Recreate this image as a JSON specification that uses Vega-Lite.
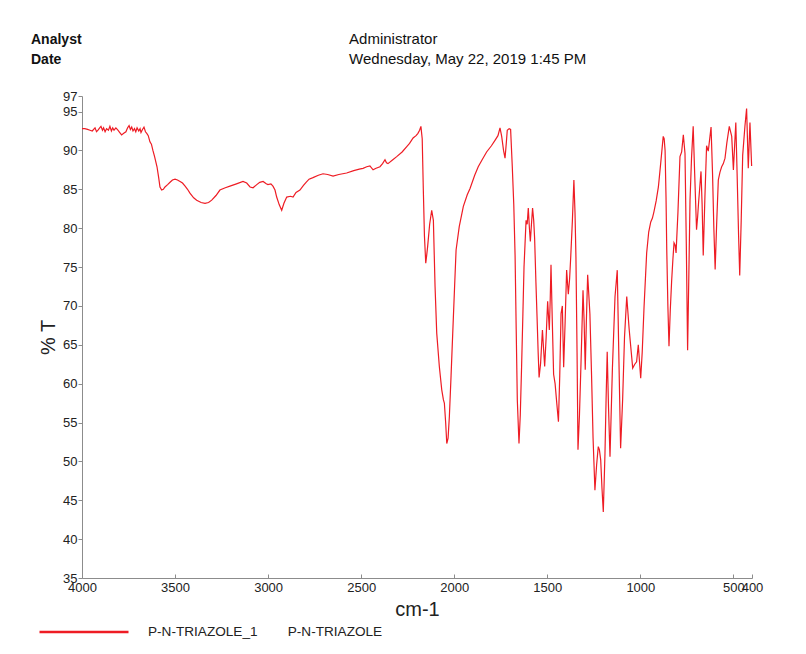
{
  "$schema": "https://vega.github.io/schema/vega-lite/v6.json",
  "width": 670,
  "height": 482,
  "autosize": {"type": "none"},
  "padding": {"left": 82, "top": 96, "right": 54, "bottom": 76},
  "background": "white",
  "config": {"view": {"stroke": null}, "font": "Liberation Sans"},
  "datasets": {
    "header": [{"labels": ["Analyst", "Date"], "values": ["Administrator", "Wednesday, May 22, 2019 1:45 PM"]}],
    "spectrum": [
      {"wavenumber": 4000, "T": 92.8}, {"wavenumber": 3985, "T": 92.8}, {"wavenumber": 3970, "T": 92.7}, {"wavenumber": 3957, "T": 92.6},
      {"wavenumber": 3945, "T": 92.5}, {"wavenumber": 3930, "T": 92.9}, {"wavenumber": 3922, "T": 92.4}, {"wavenumber": 3914, "T": 92.6},
      {"wavenumber": 3905, "T": 92.9}, {"wavenumber": 3898, "T": 93.1}, {"wavenumber": 3890, "T": 92.6}, {"wavenumber": 3884, "T": 92.9},
      {"wavenumber": 3876, "T": 92.4}, {"wavenumber": 3868, "T": 92.8}, {"wavenumber": 3858, "T": 92.6}, {"wavenumber": 3850, "T": 93.1},
      {"wavenumber": 3842, "T": 92.5}, {"wavenumber": 3835, "T": 92.9}, {"wavenumber": 3828, "T": 92.6}, {"wavenumber": 3818, "T": 92.9},
      {"wavenumber": 3807, "T": 92.6}, {"wavenumber": 3797, "T": 92.3}, {"wavenumber": 3787, "T": 92.0}, {"wavenumber": 3776, "T": 92.2},
      {"wavenumber": 3764, "T": 92.4}, {"wavenumber": 3755, "T": 92.9}, {"wavenumber": 3747, "T": 93.2}, {"wavenumber": 3740, "T": 92.7},
      {"wavenumber": 3733, "T": 93.0}, {"wavenumber": 3726, "T": 92.5}, {"wavenumber": 3718, "T": 92.8}, {"wavenumber": 3711, "T": 92.4},
      {"wavenumber": 3704, "T": 92.9}, {"wavenumber": 3695, "T": 92.5}, {"wavenumber": 3688, "T": 92.8}, {"wavenumber": 3683, "T": 92.3},
      {"wavenumber": 3675, "T": 92.7}, {"wavenumber": 3667, "T": 93.0}, {"wavenumber": 3659, "T": 92.4}, {"wavenumber": 3652, "T": 92.2},
      {"wavenumber": 3644, "T": 91.9}, {"wavenumber": 3635, "T": 91.1}, {"wavenumber": 3627, "T": 90.8}, {"wavenumber": 3619, "T": 90.0},
      {"wavenumber": 3610, "T": 89.2}, {"wavenumber": 3597, "T": 87.9}, {"wavenumber": 3588, "T": 86.5}, {"wavenumber": 3581, "T": 85.3},
      {"wavenumber": 3572, "T": 84.9}, {"wavenumber": 3563, "T": 85.0}, {"wavenumber": 3554, "T": 85.3}, {"wavenumber": 3540, "T": 85.6},
      {"wavenumber": 3527, "T": 85.9}, {"wavenumber": 3514, "T": 86.2}, {"wavenumber": 3500, "T": 86.3}, {"wavenumber": 3487, "T": 86.2},
      {"wavenumber": 3473, "T": 86.0}, {"wavenumber": 3460, "T": 85.8}, {"wavenumber": 3446, "T": 85.4}, {"wavenumber": 3433, "T": 85.0},
      {"wavenumber": 3420, "T": 84.5}, {"wavenumber": 3400, "T": 83.9}, {"wavenumber": 3384, "T": 83.6}, {"wavenumber": 3360, "T": 83.3},
      {"wavenumber": 3339, "T": 83.2}, {"wavenumber": 3320, "T": 83.3}, {"wavenumber": 3303, "T": 83.6}, {"wavenumber": 3280, "T": 84.2},
      {"wavenumber": 3259, "T": 84.9}, {"wavenumber": 3230, "T": 85.2}, {"wavenumber": 3205, "T": 85.4}, {"wavenumber": 3170, "T": 85.7},
      {"wavenumber": 3135, "T": 86.0}, {"wavenumber": 3115, "T": 85.8}, {"wavenumber": 3097, "T": 85.3}, {"wavenumber": 3081, "T": 85.2},
      {"wavenumber": 3061, "T": 85.6}, {"wavenumber": 3045, "T": 85.9}, {"wavenumber": 3027, "T": 86.0}, {"wavenumber": 3010, "T": 85.7},
      {"wavenumber": 3001, "T": 85.6}, {"wavenumber": 2985, "T": 85.7}, {"wavenumber": 2974, "T": 85.4}, {"wavenumber": 2963, "T": 84.9},
      {"wavenumber": 2954, "T": 84.0}, {"wavenumber": 2940, "T": 83.0}, {"wavenumber": 2927, "T": 82.3}, {"wavenumber": 2915, "T": 83.2},
      {"wavenumber": 2900, "T": 84.0}, {"wavenumber": 2880, "T": 84.1}, {"wavenumber": 2866, "T": 84.0}, {"wavenumber": 2850, "T": 84.6},
      {"wavenumber": 2829, "T": 84.9}, {"wavenumber": 2810, "T": 85.5}, {"wavenumber": 2796, "T": 85.9}, {"wavenumber": 2780, "T": 86.3},
      {"wavenumber": 2759, "T": 86.5}, {"wavenumber": 2730, "T": 86.8}, {"wavenumber": 2705, "T": 87.0}, {"wavenumber": 2680, "T": 86.9},
      {"wavenumber": 2651, "T": 86.7}, {"wavenumber": 2620, "T": 86.9}, {"wavenumber": 2578, "T": 87.1}, {"wavenumber": 2540, "T": 87.4},
      {"wavenumber": 2510, "T": 87.6}, {"wavenumber": 2490, "T": 87.7}, {"wavenumber": 2470, "T": 87.9}, {"wavenumber": 2453, "T": 88.0},
      {"wavenumber": 2436, "T": 87.5}, {"wavenumber": 2420, "T": 87.7}, {"wavenumber": 2399, "T": 87.9}, {"wavenumber": 2385, "T": 88.3},
      {"wavenumber": 2372, "T": 88.8}, {"wavenumber": 2364, "T": 88.4}, {"wavenumber": 2356, "T": 88.3}, {"wavenumber": 2330, "T": 88.8},
      {"wavenumber": 2309, "T": 89.2}, {"wavenumber": 2280, "T": 89.8}, {"wavenumber": 2255, "T": 90.5}, {"wavenumber": 2240, "T": 90.9},
      {"wavenumber": 2221, "T": 91.6}, {"wavenumber": 2205, "T": 91.9}, {"wavenumber": 2195, "T": 92.2}, {"wavenumber": 2186, "T": 92.6},
      {"wavenumber": 2179, "T": 93.1}, {"wavenumber": 2172, "T": 91.5}, {"wavenumber": 2166, "T": 84.9}, {"wavenumber": 2160, "T": 79.0},
      {"wavenumber": 2153, "T": 75.5}, {"wavenumber": 2148, "T": 76.5}, {"wavenumber": 2143, "T": 77.6}, {"wavenumber": 2132, "T": 80.5},
      {"wavenumber": 2121, "T": 82.3}, {"wavenumber": 2112, "T": 81.0}, {"wavenumber": 2103, "T": 72.5}, {"wavenumber": 2094, "T": 66.5},
      {"wavenumber": 2080, "T": 62.2}, {"wavenumber": 2067, "T": 59.2}, {"wavenumber": 2058, "T": 57.9}, {"wavenumber": 2053, "T": 57.5},
      {"wavenumber": 2046, "T": 55.0}, {"wavenumber": 2040, "T": 52.3}, {"wavenumber": 2033, "T": 53.0}, {"wavenumber": 2026, "T": 55.8},
      {"wavenumber": 2017, "T": 61.0}, {"wavenumber": 2008, "T": 66.5}, {"wavenumber": 1998, "T": 72.5}, {"wavenumber": 1990, "T": 77.2},
      {"wavenumber": 1973, "T": 80.2}, {"wavenumber": 1951, "T": 82.8}, {"wavenumber": 1930, "T": 84.3}, {"wavenumber": 1915, "T": 85.1},
      {"wavenumber": 1890, "T": 86.8}, {"wavenumber": 1871, "T": 87.9}, {"wavenumber": 1850, "T": 88.8}, {"wavenumber": 1826, "T": 89.8},
      {"wavenumber": 1800, "T": 90.6}, {"wavenumber": 1781, "T": 91.3}, {"wavenumber": 1765, "T": 91.9}, {"wavenumber": 1754, "T": 92.9},
      {"wavenumber": 1745, "T": 91.8}, {"wavenumber": 1735, "T": 90.0}, {"wavenumber": 1727, "T": 89.0}, {"wavenumber": 1720, "T": 91.0},
      {"wavenumber": 1715, "T": 92.6}, {"wavenumber": 1705, "T": 92.8}, {"wavenumber": 1697, "T": 92.7}, {"wavenumber": 1688, "T": 87.9},
      {"wavenumber": 1680, "T": 83.0}, {"wavenumber": 1673, "T": 76.5}, {"wavenumber": 1667, "T": 67.0}, {"wavenumber": 1661, "T": 57.9},
      {"wavenumber": 1652, "T": 52.3}, {"wavenumber": 1645, "T": 56.0}, {"wavenumber": 1638, "T": 62.2}, {"wavenumber": 1631, "T": 69.0},
      {"wavenumber": 1625, "T": 75.0}, {"wavenumber": 1614, "T": 81.0}, {"wavenumber": 1608, "T": 80.5}, {"wavenumber": 1602, "T": 82.6},
      {"wavenumber": 1596, "T": 80.0}, {"wavenumber": 1591, "T": 78.3}, {"wavenumber": 1585, "T": 80.5}, {"wavenumber": 1579, "T": 82.6},
      {"wavenumber": 1573, "T": 81.0}, {"wavenumber": 1568, "T": 78.7}, {"wavenumber": 1561, "T": 73.0}, {"wavenumber": 1555, "T": 68.6},
      {"wavenumber": 1549, "T": 64.0}, {"wavenumber": 1544, "T": 60.8}, {"wavenumber": 1536, "T": 62.6}, {"wavenumber": 1526, "T": 66.9},
      {"wavenumber": 1520, "T": 64.5}, {"wavenumber": 1514, "T": 62.2}, {"wavenumber": 1506, "T": 66.0}, {"wavenumber": 1498, "T": 70.6},
      {"wavenumber": 1489, "T": 66.9}, {"wavenumber": 1484, "T": 71.0}, {"wavenumber": 1480, "T": 75.3}, {"wavenumber": 1473, "T": 68.0},
      {"wavenumber": 1466, "T": 61.2}, {"wavenumber": 1458, "T": 60.0}, {"wavenumber": 1449, "T": 57.5}, {"wavenumber": 1440, "T": 55.1},
      {"wavenumber": 1433, "T": 61.0}, {"wavenumber": 1426, "T": 69.0}, {"wavenumber": 1419, "T": 70.0}, {"wavenumber": 1412, "T": 62.1},
      {"wavenumber": 1404, "T": 68.0}, {"wavenumber": 1396, "T": 74.6}, {"wavenumber": 1387, "T": 71.5}, {"wavenumber": 1380, "T": 73.5},
      {"wavenumber": 1374, "T": 76.3}, {"wavenumber": 1365, "T": 81.0}, {"wavenumber": 1357, "T": 86.2}, {"wavenumber": 1351, "T": 82.0},
      {"wavenumber": 1346, "T": 76.3}, {"wavenumber": 1340, "T": 64.0}, {"wavenumber": 1335, "T": 51.5}, {"wavenumber": 1327, "T": 56.0},
      {"wavenumber": 1319, "T": 62.5}, {"wavenumber": 1308, "T": 72.0}, {"wavenumber": 1302, "T": 68.0}, {"wavenumber": 1296, "T": 61.8},
      {"wavenumber": 1290, "T": 68.0}, {"wavenumber": 1283, "T": 74.0}, {"wavenumber": 1277, "T": 71.5}, {"wavenumber": 1271, "T": 69.0},
      {"wavenumber": 1262, "T": 61.0}, {"wavenumber": 1254, "T": 53.0}, {"wavenumber": 1244, "T": 46.3}, {"wavenumber": 1235, "T": 49.5},
      {"wavenumber": 1226, "T": 51.9}, {"wavenumber": 1220, "T": 51.5}, {"wavenumber": 1213, "T": 50.2}, {"wavenumber": 1206, "T": 46.5},
      {"wavenumber": 1199, "T": 43.5}, {"wavenumber": 1190, "T": 51.0}, {"wavenumber": 1184, "T": 58.0}, {"wavenumber": 1178, "T": 64.1},
      {"wavenumber": 1171, "T": 57.0}, {"wavenumber": 1163, "T": 50.6}, {"wavenumber": 1150, "T": 62.0}, {"wavenumber": 1136, "T": 71.2},
      {"wavenumber": 1124, "T": 74.6}, {"wavenumber": 1115, "T": 63.0}, {"wavenumber": 1106, "T": 51.7}, {"wavenumber": 1095, "T": 58.0},
      {"wavenumber": 1085, "T": 66.0}, {"wavenumber": 1073, "T": 71.2}, {"wavenumber": 1060, "T": 67.0}, {"wavenumber": 1041, "T": 62.0},
      {"wavenumber": 1030, "T": 62.5}, {"wavenumber": 1020, "T": 62.8}, {"wavenumber": 1011, "T": 65.0}, {"wavenumber": 998, "T": 60.7},
      {"wavenumber": 990, "T": 64.0}, {"wavenumber": 980, "T": 69.9}, {"wavenumber": 966, "T": 76.8}, {"wavenumber": 955, "T": 79.5},
      {"wavenumber": 944, "T": 80.8}, {"wavenumber": 935, "T": 81.3}, {"wavenumber": 927, "T": 82.1}, {"wavenumber": 915, "T": 83.5},
      {"wavenumber": 903, "T": 85.3}, {"wavenumber": 890, "T": 88.5}, {"wavenumber": 877, "T": 91.8}, {"wavenumber": 872, "T": 91.5},
      {"wavenumber": 867, "T": 90.0}, {"wavenumber": 862, "T": 84.0}, {"wavenumber": 858, "T": 77.2}, {"wavenumber": 852, "T": 70.0},
      {"wavenumber": 846, "T": 64.8}, {"wavenumber": 839, "T": 69.5}, {"wavenumber": 832, "T": 73.1}, {"wavenumber": 825, "T": 76.0},
      {"wavenumber": 819, "T": 78.1}, {"wavenumber": 813, "T": 77.8}, {"wavenumber": 808, "T": 76.8}, {"wavenumber": 798, "T": 82.0},
      {"wavenumber": 787, "T": 89.2}, {"wavenumber": 778, "T": 89.8}, {"wavenumber": 769, "T": 92.0}, {"wavenumber": 760, "T": 89.6},
      {"wavenumber": 753, "T": 78.0}, {"wavenumber": 746, "T": 64.3}, {"wavenumber": 740, "T": 73.0}, {"wavenumber": 733, "T": 83.6},
      {"wavenumber": 725, "T": 89.0}, {"wavenumber": 716, "T": 93.1}, {"wavenumber": 708, "T": 87.0}, {"wavenumber": 698, "T": 79.8},
      {"wavenumber": 692, "T": 81.5}, {"wavenumber": 687, "T": 83.3}, {"wavenumber": 674, "T": 87.3}, {"wavenumber": 668, "T": 83.0},
      {"wavenumber": 662, "T": 76.5}, {"wavenumber": 653, "T": 84.0}, {"wavenumber": 644, "T": 90.6}, {"wavenumber": 635, "T": 89.9},
      {"wavenumber": 620, "T": 93.0}, {"wavenumber": 612, "T": 87.0}, {"wavenumber": 605, "T": 80.0}, {"wavenumber": 598, "T": 74.7},
      {"wavenumber": 590, "T": 80.5}, {"wavenumber": 581, "T": 86.2}, {"wavenumber": 572, "T": 87.2}, {"wavenumber": 563, "T": 87.9},
      {"wavenumber": 554, "T": 88.3}, {"wavenumber": 545, "T": 89.0}, {"wavenumber": 535, "T": 91.0}, {"wavenumber": 522, "T": 93.1},
      {"wavenumber": 509, "T": 91.8}, {"wavenumber": 500, "T": 87.5}, {"wavenumber": 487, "T": 93.6}, {"wavenumber": 480, "T": 87.0},
      {"wavenumber": 472, "T": 79.0}, {"wavenumber": 466, "T": 73.9}, {"wavenumber": 458, "T": 81.0}, {"wavenumber": 450, "T": 89.4},
      {"wavenumber": 438, "T": 93.1}, {"wavenumber": 429, "T": 95.4}, {"wavenumber": 420, "T": 87.7}, {"wavenumber": 411, "T": 93.6},
      {"wavenumber": 402, "T": 88.0}
    ]
  },
  "layer": [
    {
      "data": {"name": "spectrum"},
      "mark": {"type": "line", "strokeWidth": 1.2, "color": "#ee1c24"},
      "encoding": {
        "x": {
          "field": "wavenumber", "type": "quantitative",
          "scale": {"domain": [4000, 400], "nice": false, "zero": false},
          "axis": {
            "title": "cm-1", "values": [4000, 3500, 3000, 2500, 2000, 1500, 1000, 500, 400],
            "format": "d", "grid": false, "labelOverlap": false, "labelFlush": false,
            "tickSize": -4, "labelPadding": 7, "tickColor": "#8c8c8c", "domainColor": "#8c8c8c",
            "labelFontSize": 13, "labelColor": "#222222",
            "titleFontSize": 20, "titleFontWeight": "normal", "titleColor": "#222222", "titlePadding": 5
          }
        },
        "y": {
          "field": "T", "type": "quantitative",
          "scale": {"domain": [35, 97], "nice": false, "zero": false},
          "axis": {
            "title": "% T", "values": [35, 40, 45, 50, 55, 60, 65, 70, 75, 80, 85, 90, 95, 97],
            "grid": false, "labelOverlap": false, "labelFlush": false,
            "tickSize": 4, "labelPadding": 1, "tickColor": "#8c8c8c", "domainColor": "#8c8c8c",
            "labelFontSize": 13, "labelColor": "#222222",
            "titleFontSize": 20, "titleFontWeight": "normal", "titleColor": "#222222", "titlePadding": 4
          }
        },
        "color": {
          "datum": "P-N-TRIAZOLE_1", "type": "nominal",
          "scale": {"range": ["#ee1c24"]},
          "legend": {
            "orient": "none", "legendX": -44, "legendY": 490, "title": null, "padding": 0,
            "symbolType": "stroke", "symbolSize": 7921, "symbolStrokeWidth": 2.5,
            "labelOffset": 18, "labelFontSize": 13.6, "labelColor": "#222222", "labelLimit": 400,
            "labelExpr": "datum.label + '\u00a0\u00a0\u00a0\u00a0\u00a0\u00a0\u00a0\u00a0P-N-TRIAZOLE'"
          }
        }
      }
    },
    {
      "data": {"name": "header"},
      "mark": {"type": "text", "align": "left", "baseline": "alphabetic", "fontWeight": "bold", "fontSize": 14, "lineHeight": 20, "color": "#111111"},
      "encoding": {
        "x": {
          "datum": 4274, "type": "quantitative",
          "axis": {
            "title": "cm-1", "values": [4000, 3500, 3000, 2500, 2000, 1500, 1000, 500, 400],
            "format": "d", "grid": false, "labelOverlap": false, "labelFlush": false,
            "tickSize": -4, "labelPadding": 7, "tickColor": "#8c8c8c", "domainColor": "#8c8c8c",
            "labelFontSize": 13, "labelColor": "#222222",
            "titleFontSize": 20, "titleFontWeight": "normal", "titleColor": "#222222", "titlePadding": 5
          }
        },
        "y": {
          "datum": 103.7, "type": "quantitative",
          "axis": {
            "title": "% T", "values": [35, 40, 45, 50, 55, 60, 65, 70, 75, 80, 85, 90, 95, 97],
            "grid": false, "labelOverlap": false, "labelFlush": false,
            "tickSize": 4, "labelPadding": 1, "tickColor": "#8c8c8c", "domainColor": "#8c8c8c",
            "labelFontSize": 13, "labelColor": "#222222",
            "titleFontSize": 20, "titleFontWeight": "normal", "titleColor": "#222222", "titlePadding": 4
          }
        },
        "text": {"field": "labels"}
      }
    },
    {
      "data": {"name": "header"},
      "mark": {"type": "text", "align": "left", "baseline": "alphabetic", "fontSize": 15, "lineHeight": 20, "color": "#111111"},
      "encoding": {
        "x": {
          "datum": 2565, "type": "quantitative",
          "axis": {
            "title": "cm-1", "values": [4000, 3500, 3000, 2500, 2000, 1500, 1000, 500, 400],
            "format": "d", "grid": false, "labelOverlap": false, "labelFlush": false,
            "tickSize": -4, "labelPadding": 7, "tickColor": "#8c8c8c", "domainColor": "#8c8c8c",
            "labelFontSize": 13, "labelColor": "#222222",
            "titleFontSize": 20, "titleFontWeight": "normal", "titleColor": "#222222", "titlePadding": 5
          }
        },
        "y": {
          "datum": 103.7, "type": "quantitative",
          "axis": {
            "title": "% T", "values": [35, 40, 45, 50, 55, 60, 65, 70, 75, 80, 85, 90, 95, 97],
            "grid": false, "labelOverlap": false, "labelFlush": false,
            "tickSize": 4, "labelPadding": 1, "tickColor": "#8c8c8c", "domainColor": "#8c8c8c",
            "labelFontSize": 13, "labelColor": "#222222",
            "titleFontSize": 20, "titleFontWeight": "normal", "titleColor": "#222222", "titlePadding": 4
          }
        },
        "text": {"field": "values"}
      }
    }
  ]
}
